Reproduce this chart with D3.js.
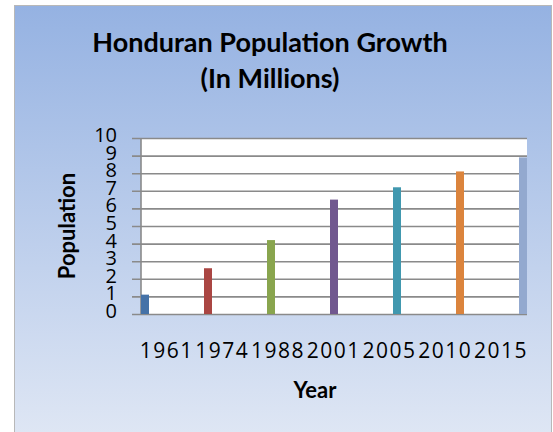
<!DOCTYPE html>
<html>
<head>
<meta charset="utf-8">
<script src="https://cdn.jsdelivr.net/npm/d3@7/dist/d3.min.js"></script>
<style>
  html, body { margin: 0; padding: 0; background: #ffffff; }
  svg { display: block; }
</style>
</head>
<body>
<svg id="chart" width="553" height="432"></svg>
<script>
// ---- data ----
const years = ["1961", "1974", "1988", "2001", "2005", "2010", "2015"];
const population = [1.1, 2.6, 4.2, 6.5, 7.2, 8.1, 8.9];
const barColors = ["#4572A7", "#AA4643", "#89A54E", "#71588F", "#4198AF", "#DB843D", "#93A9CF"];
const yTicks = [0, 1, 2, 3, 4, 5, 6, 7, 8, 9, 10];
const titleLines = ["Honduran Population Growth", "(In Millions)"];
const xTitle = "Year";
const yTitle = "Population";

// ---- layout ----
const W = 553, H = 432;
const frame = { x: 14, y: 5, w: 538, h: 427 };
const plot = { left: 141, right: 527, top: 138, bottom: 314 };
const barW = 8;
const font = "Lato, 'Open Sans', sans-serif";
const numFont = "'Open Sans', Lato, sans-serif";

const svg = d3.select("#chart");
const defs = svg.append("defs");
const grad = defs.append("linearGradient").attr("id", "bg").attr("x1", 0).attr("y1", 0).attr("x2", 0).attr("y2", 1);
grad.append("stop").attr("offset", "0%").attr("stop-color", "#95B2E2");
grad.append("stop").attr("offset", "100%").attr("stop-color", "#DEE6F4");

svg.append("rect")
  .attr("x", frame.x + 0.5).attr("y", frame.y + 0.5)
  .attr("width", frame.w - 1).attr("height", frame.h)
  .attr("fill", "url(#bg)")
  .attr("stroke", "#B8B8B8").attr("stroke-width", 1);

// scales
const y = d3.scaleLinear().domain([0, 10]).range([plot.bottom, plot.top]);
const xBar = d3.scalePoint().domain(years).range([plot.left, plot.right - barW]);
const xLab = d3.scaleBand().domain(years).range([plot.left - 3, plot.right + 1]);

// plot area
svg.append("rect")
  .attr("x", plot.left).attr("y", plot.top)
  .attr("width", plot.right - plot.left).attr("height", plot.bottom - plot.top)
  .attr("fill", "#ffffff");

// gridlines + ticks via axis
const yAxis = d3.axisLeft(y).tickValues(yTicks).tickSize(-(plot.right - plot.left)).tickFormat("");
const gGrid = svg.append("g").attr("transform", `translate(${plot.left},0)`).call(yAxis);
gGrid.select(".domain").remove();
gGrid.selectAll(".tick line")
  .attr("stroke", "#8A8A8A").attr("stroke-width", 1.6)
  .attr("x1", -9);

// y labels
svg.append("g").selectAll("text").data(yTicks).join("text")
  .attr("x", 117)
  .attr("y", d => y(d) + 4)
  .attr("text-anchor", "end")
  .attr("font-family", numFont).attr("font-size", 20)
  .attr("fill", "#000")
  .text(d => d);

// left axis line
svg.append("line")
  .attr("x1", plot.left).attr("x2", plot.left)
  .attr("y1", plot.top).attr("y2", plot.bottom)
  .attr("stroke", "#8A8A8A").attr("stroke-width", 1.6);

// bars
svg.append("g").selectAll("rect").data(years).join("rect")
  .attr("x", d => xBar(d))
  .attr("width", barW)
  .attr("y", (d, i) => y(population[i]))
  .attr("height", (d, i) => y(0) - y(population[i]))
  .attr("fill", (d, i) => barColors[i]);

// x labels
svg.append("g").selectAll("text").data(years).join("text")
  .attr("x", d => xLab(d) + xLab.bandwidth() / 2 + 0.8)
  .attr("y", 358)
  .attr("text-anchor", "middle")
  .attr("font-family", numFont).attr("font-size", 21)
  .attr("letter-spacing", 1.5)
  .attr("fill", "#000")
  .text(d => d);

// axis titles
svg.append("text")
  .attr("x", 315).attr("y", 398)
  .attr("text-anchor", "middle")
  .attr("font-family", font).attr("font-size", 22).attr("font-weight", "bold")
  .text(xTitle);

svg.append("text")
  .attr("transform", `translate(75,${(plot.top + plot.bottom) / 2}) rotate(-90)`)
  .attr("text-anchor", "middle")
  .attr("font-family", font).attr("font-size", 22).attr("font-weight", "bold")
  .text(yTitle);

// title
svg.append("g").selectAll("text").data(titleLines).join("text")
  .attr("x", 270)
  .attr("y", (d, i) => 52 + i * 36)
  .attr("text-anchor", "middle")
  .attr("font-family", font).attr("font-size", 27).attr("font-weight", "bold")
  .text(d => d);
</script>
</body>
</html>
